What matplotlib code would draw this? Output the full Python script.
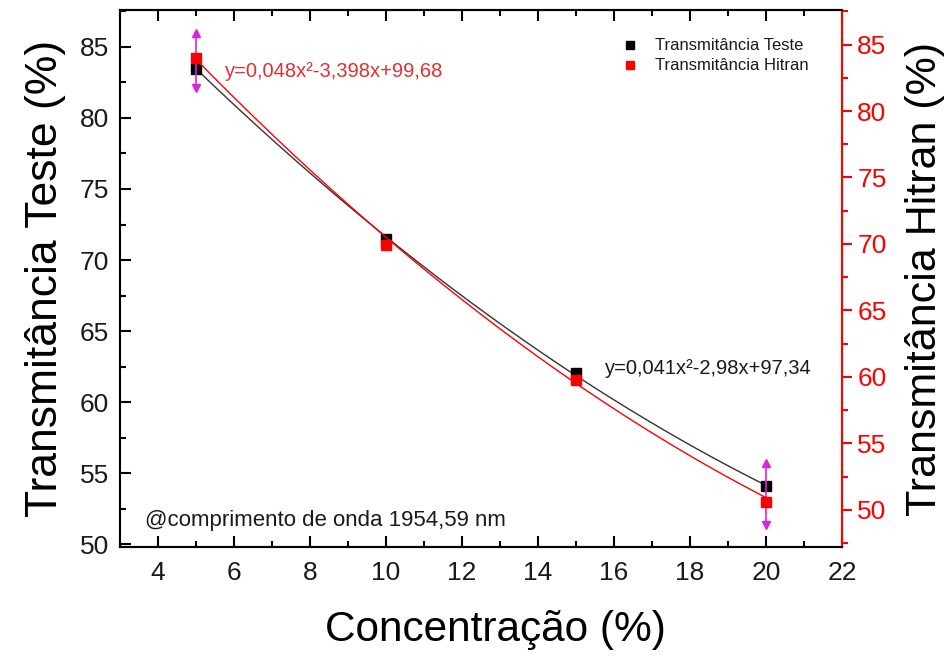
import numpy as np
import matplotlib
matplotlib.use('Agg')
import matplotlib.pyplot as plt
from matplotlib.ticker import MultipleLocator
from matplotlib.lines import Line2D

plt.rcParams['font.family'] = ['Liberation Sans', 'DejaVu Sans']
plt.rcParams['text.color'] = '#1a1a1a'

# data
conc = [5, 10, 15, 20]
trans_teste = [83.43, 71.48, 62.05, 54.13]
trans_hitran = [84.0, 69.9, 59.74, 50.56]

# fitted polynomials (coefficients from the equations shown on the chart)
fit_teste = [0.041, -2.98, 97.34]
fit_hitran = [0.048, -3.398, 99.68]

# magenta error bars (low / high, left axis units)
err_x = [5, 20]
err_low = [82.1, 51.36]
err_high = [85.96, 55.72]

fig = plt.figure(figsize=(9.49, 6.57), dpi=100)
ax = fig.add_axes([0.1264, 0.1674, 0.7608, 0.8174])
ax2 = ax.twinx()

xs = np.linspace(min(conc), max(conc), 200)
ax.plot(xs, np.polyval(fit_teste, xs), color='#333333', lw=1.0, zorder=2)
ax.plot(conc, trans_teste, 's', color='black', ms=7, zorder=3)

ax.vlines(err_x, err_low, err_high, color='#e020e0', lw=1.2, zorder=4)
ax.plot(err_x, err_high, '^', color='#e020e0', ms=6, zorder=4)
ax.plot(err_x, err_low, 'v', color='#e020e0', ms=6, zorder=4)

ax2.plot(xs, np.polyval(fit_hitran, xs), color='red', lw=1.0, zorder=2)
ax2.plot(conc, trans_hitran, 's', color='red', ms=7, zorder=3)

ax.set_xlim(3, 22)
ax.set_ylim(49.8, 87.6)
ax2.set_ylim(47.2, 87.6)

ax.xaxis.set_major_locator(MultipleLocator(2))
ax.xaxis.set_minor_locator(MultipleLocator(1))
ax.yaxis.set_major_locator(MultipleLocator(5))
ax.yaxis.set_minor_locator(MultipleLocator(2.5))
ax2.yaxis.set_major_locator(MultipleLocator(5))
ax2.yaxis.set_minor_locator(MultipleLocator(2.5))

ax.tick_params(which='both', direction='in', top=True, right=False, width=1.5,
               labelsize=19, labelcolor='#1a1a1a')
ax.tick_params(axis='y', pad=8)
ax.tick_params(axis='x', pad=10)
ax.tick_params(which='major', length=8)
ax.tick_params(which='minor', length=4.5)
ax2.tick_params(which='both', direction='out', colors='red', width=1.5,
                labelsize=19, pad=4)
ax2.tick_params(which='major', length=7)
ax2.tick_params(which='minor', length=4)

for s in ['left', 'bottom', 'top']:
    ax.spines[s].set_linewidth(1.5)
ax2.spines['right'].set_color('red')
ax2.spines['right'].set_linewidth(1.5)
ax2.spines['left'].set_visible(False)
ax2.spines['top'].set_linewidth(1.5)
ax2.spines['bottom'].set_linewidth(1.5)

ax.set_xlabel('Concentração (%)', fontsize=30.5, labelpad=18, x=0.52)
ax.set_ylabel('Transmitância Teste (%)', fontsize=32, labelpad=10)
ax2.set_ylabel('Transmitância Hitran (%)', fontsize=31, labelpad=13)

ax2.text(0.145, 0.885, 'y=0,048x²-3,398x+99,68', color='#e03030', fontsize=14.5,
         transform=ax.transAxes, va='center')
ax2.text(0.672, 0.333, 'y=0,041x²-2,98x+97,34', fontsize=14.5,
         transform=ax.transAxes, va='center')
ax2.text(0.035, 0.05, '@comprimento de onda 1954,59 nm', fontsize=16,
         transform=ax.transAxes, va='center')

handles = [Line2D([], [], ls='none', marker='s', color='black', ms=6),
           Line2D([], [], ls='none', marker='s', color='red', ms=6)]
ax2.legend(handles, ['Transmitância Teste', 'Transmitância Hitran'], loc='upper right',
           bbox_to_anchor=(0.975, 0.975), frameon=False, fontsize=12,
           handlelength=1.0, handletextpad=1.0, labelspacing=0.3)

fig.savefig('out.png', dpi=100)
